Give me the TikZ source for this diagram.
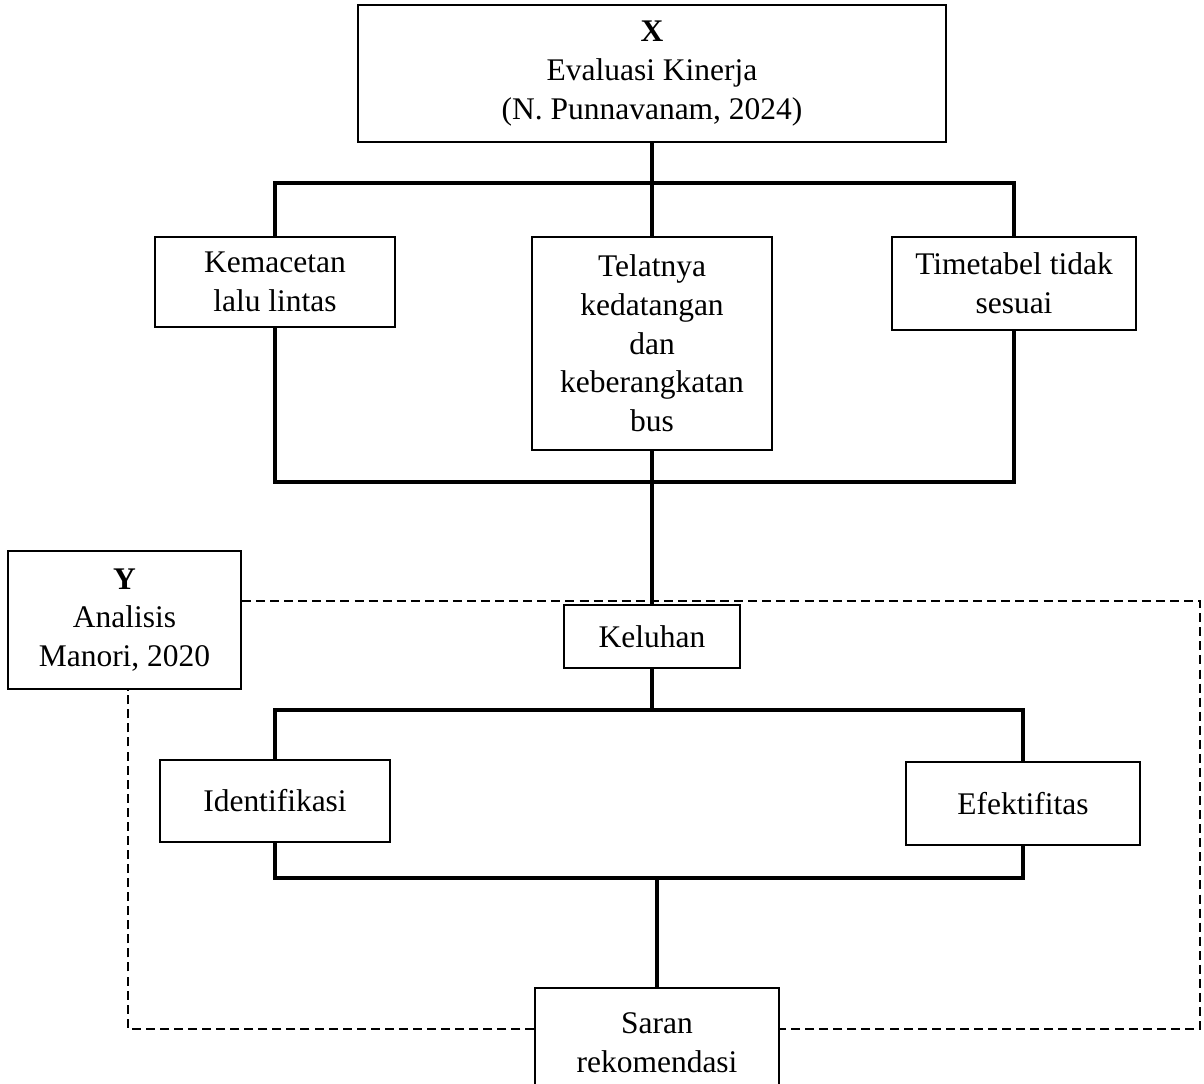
\documentclass[tikz,border=0pt]{standalone}
\usepackage{fontspec}
\setmainfont{Liberation Serif}
\usetikzlibrary{positioning,calc}
\tikzset{
  kotak/.style={draw=black,line width=1.4pt,align=center,inner sep=2pt,
                font=\fontsize{22.4}{27.5}\selectfont},
  garis/.style={draw=black,line width=2.6pt},
  putus/.style={draw=black,line width=1.3pt,dash pattern=on 6.4pt off 3.6pt},
}
\begin{document}
\begin{tikzpicture}[x=0.025cm,y=-0.025cm]
\useasboundingbox (0,0) rectangle (1204,1084);

\node[kotak,minimum width=14.7cm,minimum height=3.425cm] (xvar) at (652,73.5)
  {\textbf{X}\\Evaluasi Kinerja\\(N. Punnavanam, 2024)};

\node[kotak,minimum width=6cm,minimum height=2.25cm] (kem) at (275,282)
  {Kemacetan\\lalu lintas};
\node[kotak,minimum width=6cm,minimum height=5.325cm] (tel) at (652,343.5)
  {Telatnya\\kedatangan\\dan\\keberangkatan\\bus};
\node[kotak,minimum width=6.075cm,minimum height=2.325cm] (tim) at (1014,283.5)
  {Timetabel tidak\\sesuai};

\node[kotak,minimum width=5.825cm,minimum height=3.45cm] (yvar) at (124.5,620)
  {\textbf{Y}\\Analisis\\Manori, 2020};
\node[kotak,minimum width=4.4cm,minimum height=1.575cm] (kel) at (652,636.5) {Keluhan};

\node[kotak,minimum width=5.75cm,minimum height=2.05cm] (ide) at (275,801) {Identifikasi};
\node[kotak,minimum width=5.85cm,minimum height=2.075cm] (efe) at (1023,803.5) {Efektifitas};

\node[kotak,minimum width=6.075cm,minimum height=2.75cm] (sar) at (657,1043)
  {Saran\\rekomendasi};

\coordinate (atas) at (652,183);
\coordinate (bawah) at (652,482);
\coordinate (cabang) at (652,710);
\coordinate (gabung) at (657,878);

\draw[garis] (xvar.south) -- (tel.north);
\draw[garis] (kem.north) |- (atas) -| (tim.north);
\draw[garis] (kem.south) |- (bawah) -| (tim.south);
\draw[garis] (tel.south) -- (kel.north);
\draw[garis] (kel.south) -- (cabang);
\draw[garis] (ide.north) |- (cabang) -| (efe.north);
\draw[garis] (ide.south) |- (gabung) -| (efe.south);
\draw[garis] (gabung) -- (sar.north);

% batas analisis Y, putus-putus
\coordinate (ka) at (1200,601);
\coordinate (kb) at (1200,1029);
\coordinate (ki) at (128,1029);
\draw[putus] (yvar.east |- ka) -- (ka) -- (kb) -- (sar.east |- kb);
\draw[putus] (sar.west |- kb) -- (ki) -- (ki |- yvar.south);

\end{tikzpicture}
\end{document}
